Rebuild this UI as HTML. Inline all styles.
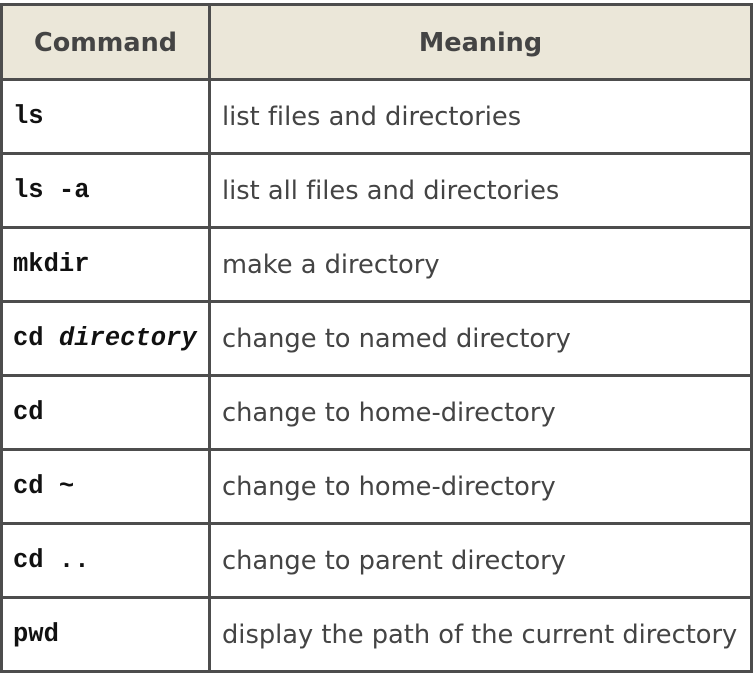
<!DOCTYPE html><html><head><style>
body{margin:0;width:756px;height:676px;background:#fff;position:relative;overflow:hidden}
.h{position:absolute;background:#4d4d4d}
.t{position:absolute;font-family:"DejaVu Sans","Liberation Sans",sans-serif;font-size:25.7px;color:#444;line-height:30px;white-space:nowrap;font-variant-ligatures:none}
.m{position:absolute;font-family:"Liberation Mono",monospace;font-weight:bold;font-size:25.5px;color:#111;line-height:30px;white-space:nowrap;left:13px}
.hd{font-weight:bold;font-size:25.5px;color:#444}
</style></head><body>
<div style="position:absolute;left:0;top:3px;width:753px;height:77px;background:#ebe7d9"></div>
<div class="h" style="left:0;top:3px;width:753px;height:3px"></div>
<div class="h" style="left:0;top:78px;width:753px;height:3px"></div>
<div class="h" style="left:0;top:152px;width:753px;height:3px"></div>
<div class="h" style="left:0;top:226px;width:753px;height:3px"></div>
<div class="h" style="left:0;top:300px;width:753px;height:3px"></div>
<div class="h" style="left:0;top:374px;width:753px;height:3px"></div>
<div class="h" style="left:0;top:448px;width:753px;height:3px"></div>
<div class="h" style="left:0;top:522px;width:753px;height:3px"></div>
<div class="h" style="left:0;top:596px;width:753px;height:3px"></div>
<div class="h" style="left:0;top:670px;width:753px;height:3px"></div>
<div class="h" style="left:0;top:3px;width:3px;height:670px"></div>
<div class="h" style="left:208px;top:3px;width:3px;height:670px"></div>
<div class="h" style="left:750px;top:3px;width:3px;height:670px"></div>
<div class="t hd" style="left:3px;width:205px;text-align:center;top:28px">Command</div>
<div class="t hd" style="left:211px;width:539px;text-align:center;top:28px">Meaning</div>
<div class="m" style="top:102px">ls</div><div class="t" style="left:222px;top:102px">list files and directories</div>
<div class="m" style="top:176px">ls -a</div><div class="t" style="left:222px;top:176px">list all files and directories</div>
<div class="m" style="top:250px">mkdir</div><div class="t" style="left:222px;top:250px">make a directory</div>
<div class="m" style="top:324px">cd <i>directory</i></div><div class="t" style="left:222px;top:324px">change to named directory</div>
<div class="m" style="top:398px">cd</div><div class="t" style="left:222px;top:398px">change to home-directory</div>
<div class="m" style="top:472px">cd ~</div><div class="t" style="left:222px;top:472px">change to home-directory</div>
<div class="m" style="top:546px">cd ..</div><div class="t" style="left:222px;top:546px">change to parent directory</div>
<div class="m" style="top:620px">pwd</div><div class="t" style="left:222px;top:620px">display the path of the current directory</div>
</body></html>
